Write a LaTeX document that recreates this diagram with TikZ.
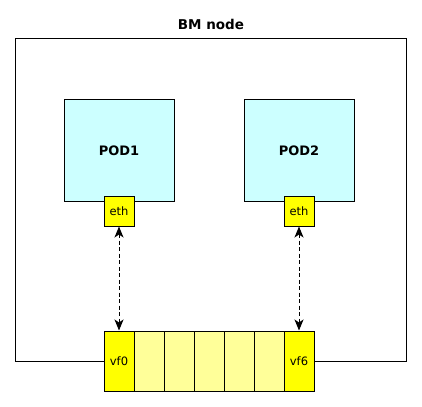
\documentclass[tikz,border=0pt]{standalone}
\usepackage{fontspec}
\setmainfont{DejaVu Sans}
\usetikzlibrary{arrows.meta}
\definecolor{podfill}{HTML}{CCFFFF}
\definecolor{vfyellow}{HTML}{FFFF00}
\definecolor{slotfill}{HTML}{FFFF99}
\begin{document}
\begin{tikzpicture}[x=1pt,y=-1pt,
  box/.style={draw=black,line width=1pt},
  podbox/.style={box,fill=podfill,minimum width=110pt,minimum height=101pt,inner sep=0pt,font=\fontsize{13}{15}\selectfont\bfseries},
  ethbox/.style={box,fill=vfyellow,minimum width=30pt,minimum height=30pt,inner sep=0pt,font=\fontsize{11.5}{13}\selectfont},
  vfbox/.style={box,fill=vfyellow,minimum width=30pt,minimum height=60pt,inner sep=0pt,font=\fontsize{11.5}{13}\selectfont},
  slotbox/.style={box,fill=slotfill,minimum width=30pt,minimum height=60pt,inner sep=0pt},
  link/.style={line width=1pt,dash pattern=on 4pt off 2.5pt,{Stealth[length=11pt,width=9pt,inset=3pt]}-{Stealth[length=11pt,width=9pt,inset=3pt]}}
]
\useasboundingbox (0,0) rectangle (422,406);
\node[font=\fontsize{13.5}{15}\selectfont\bfseries] (title) at (211,24) {BM node};
% outer box
\draw[box] (104,361) -- (15,361) -- (15,39) -- (406,39) -- (406,361) -- (314,361);
\node[podbox] (pod1) at (119,150.5) {POD1};
\node[podbox] (pod2) at (299,150.5) {POD2};
\node[ethbox] (eth1) at (119,211) {eth};
\node[ethbox] (eth2) at (299,211) {eth};
\node[vfbox] (vf0) at (119,361) {vf0};
\node[slotbox] (s1) at (149,361) {};
\node[slotbox] (s2) at (179,361) {};
\node[slotbox] (s3) at (209,361) {};
\node[slotbox] (s4) at (239,361) {};
\node[slotbox] (s5) at (269,361) {};
\node[vfbox] (vf6) at (299,361) {vf6};
\draw[link] (eth1.south) -- (vf0.north);
\draw[link] (eth2.south) -- (vf6.north);
\end{tikzpicture}
\end{document}
